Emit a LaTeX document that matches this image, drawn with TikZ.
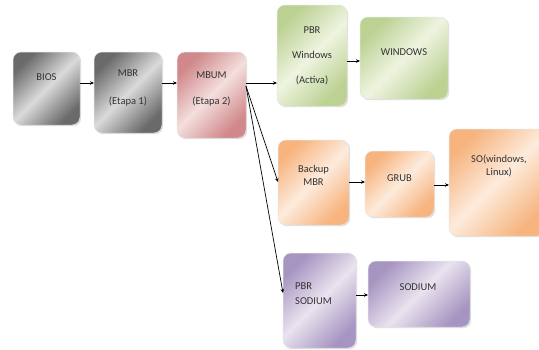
\documentclass[tikz,border=0pt]{standalone}
\usepackage{fontspec}
\setmainfont{Carlito}
\usetikzlibrary{arrows.meta,shadows}
\definecolor{gdark}{HTML}{6A6A6A}\definecolor{glight}{HTML}{DADADA}
\definecolor{rdark}{HTML}{D0888A}\definecolor{rlight}{HTML}{F4DEDD}
\definecolor{vdark}{HTML}{BCD192}\definecolor{vlight}{HTML}{EEF4E0}
\definecolor{odark}{HTML}{F7B47F}\definecolor{olight}{HTML}{FDEBDC}
\definecolor{pdark}{HTML}{A795C1}\definecolor{plight}{HTML}{E9E3EF}
\definecolor{txt}{HTML}{333333}
\begin{document}
\begin{tikzpicture}[x=1pt,y=-1pt,
  box/.style={rounded corners=8pt, draw=white!80!gray, line width=0.5pt, inner sep=0pt, outer sep=0pt,
    drop shadow={shadow xshift=1.2pt, shadow yshift=-1.2pt, opacity=0.25}},
  grayb/.style={box, top color=gdark, bottom color=gdark, middle color=glight, shading angle=45},
  redb/.style={box, top color=rdark, bottom color=rdark, middle color=rlight, shading angle=45},
  greenb/.style={box, top color=vdark, bottom color=vdark, middle color=vlight, shading angle=45},
  orangeb/.style={box, top color=odark, bottom color=odark, middle color=olight, shading angle=45},
  purpleb/.style={box, top color=pdark, bottom color=pdark, middle color=plight, shading angle=45},
  lbl/.style={font=\fontsize{10.5}{12}\selectfont, text=txt, inner sep=0pt, align=center},
  arr/.style={-{Stealth[length=4pt,width=3.5pt]}, line width=0.7pt, black}]
\useasboundingbox (0,0) rectangle (539,349);
\fill[white] (0,0) rectangle (539,349);
% boxes
\node[grayb, minimum width=67pt, minimum height=73pt] (bios) at (46.5,88.5) {};
\node[grayb, minimum width=68pt, minimum height=81pt] (mbr) at (128,92.5) {};
\node[redb, minimum width=69pt, minimum height=86pt] (mbum) at (211.5,95) {};
\node[greenb, minimum width=70pt, minimum height=101pt] (pbrw) at (312,55.5) {};
\node[greenb, minimum width=88pt, minimum height=82pt] (win) at (404,58) {};
\node[orangeb, minimum width=71pt, minimum height=85pt] (bmbr) at (313.5,182.5) {};
\node[orangeb, minimum width=69pt, minimum height=66pt] (grub) at (399.5,184) {};
\node[orangeb, minimum width=96pt, minimum height=107pt] (so) at (497,182.5) {};
\node[purpleb, minimum width=73pt, minimum height=95pt] (pbrs) at (319.5,300.5) {};
\node[purpleb, minimum width=102pt, minimum height=66pt] (sod) at (419,294) {};
% texts
\node[lbl] (t-bios) at (46.5,77) {BIOS};
\node[lbl] (t-mbr1) at (128,73) {MBR};
\node[lbl] (t-mbr2) at (128,102) {(Etapa 1)};
\node[lbl] (t-mbum1) at (211.5,75) {MBUM};
\node[lbl] (t-mbum2) at (211.5,102) {(Etapa 2)};
\node[lbl] (t-pbrw1) at (312,30) {PBR};
\node[lbl] (t-pbrw2) at (312,55) {Windows};
\node[lbl] (t-pbrw3) at (312,80) {(Activa)};
\node[lbl] (t-win) at (404,52) {WINDOWS};
\node[lbl] (t-bmbr) at (313.5,175) {Backup\\[1pt]MBR};
\node[lbl] (t-grub) at (399.5,178) {GRUB};
\node[lbl] (t-so) at (499,166) {SO(windows,\\[1pt]Linux)};
\node[lbl, align=left, anchor=west] (t-pbrs) at (295,294) {PBR\\[3pt]SODIUM};
\node[lbl] (t-sod) at (418,287) {SODIUM};
% connectors
\draw[arr] (bios.east |- 0,83) -- (mbr.west |- 0,83);
\draw[arr] (mbr.east |- 0,83) -- (mbum.west |- 0,83);
\draw[arr] (mbum.east |- 0,83) -- (pbrw.west |- 0,83);
\draw[arr] (pbrw.east |- 0,61) -- (win.west |- 0,61);
\draw[arr] (mbum.east |- 0,86) -- (bmbr.west |- 0,182);
\draw[arr] (mbum.east |- 0,86) -- (pbrs.west |- 0,293);
\draw[arr] (bmbr.east |- 0,182) -- (grub.west |- 0,182);
\draw[arr] (grub.east |- 0,185) -- (so.west |- 0,185);
\draw[arr] (pbrs.east |- 0,295) -- (sod.west |- 0,295);
\end{tikzpicture}
\end{document}
